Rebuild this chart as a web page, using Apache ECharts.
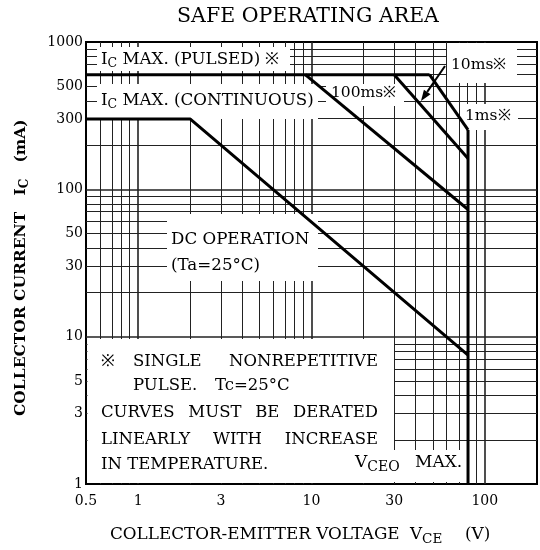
<!DOCTYPE html>
<html><head><meta charset="utf-8">
<script src="https://cdn.jsdelivr.net/npm/echarts@6/dist/echarts.min.js"></script>
<style>html,body{margin:0;padding:0;background:#fff}#c{width:540px;height:550px}</style>
</head><body><div id="c"></div>
<script>
// ---- data (VCE in V, IC in mA) ----
const xTickLabels = [0.5, 1, 3, 10, 30, 100];
const yTickLabels = [1, 3, 5, 10, 30, 50, 100, 300, 500, 1000];
const xGridValues = [0.6, 0.7, 0.8, 0.9, 1, 2, 3, 4, 5, 6, 7, 8, 9, 10, 20, 30, 40, 50, 60, 70, 80, 90, 100];
const yGridValues = [2, 3, 4, 5, 6, 7, 8, 9, 10, 20, 30, 40, 50, 60, 70, 80, 90, 100, 200, 300, 400, 500, 600, 700, 800, 900];
const xMajorGrid = [1, 10, 100];
const yMajorGrid = [10, 100];
const dcVce = [0.5, 2, 80];
const dcIc = [300, 300, 7.5];
const pulsedVce = [0.5, 48];
const pulsedIc = [600, 600];
const ms1Vce = [48, 80];
const ms1Ic = [600, 253];
const ms10Vce = [30, 80];
const ms10Ic = [600, 162];
const ms100Vce = [9.2, 80];
const ms100Ic = [600, 73];
const vceoVce = [80, 80];
const vceoIc = [253, 1];
const xMin = 0.5, xMax = 200, yMin = 1, yMax = 1000;

const L = Math.log10;
const FONT = '"DejaVu Serif", "Liberation Serif", serif';
const pairs = (xs, ys) => xs.map((x, i) => [L(x), L(ys[i])]);
const fmtTick = list => v => {
  const hit = list.find(t => Math.abs(L(t) - v) < 1e-6);
  return hit === undefined ? '' : String(hit);
};

const mctx = document.createElement('canvas').getContext('2d');
function tw(t, size, bold) { mctx.font = (bold ? 'bold ' : '') + size + 'px ' + FONT; return mctx.measureText(t).width; }
function txt(x, y, t, size, bold, extra) {
  return Object.assign({ type: 'text', x, y, z: 4, silent: true,
    style: { text: t, fontSize: size, fontFamily: FONT, fontWeight: bold ? 'bold' : 'normal', fill: '#000', verticalAlign: 'middle' } }, extra || {});
}
function seq(x, y, parts, bold) {
  const out = []; let cx = x;
  for (const [t, size, dy] of parts) {
    out.push(txt(cx, y + (dy || 0), t, size, bold));
    cx += tw(t, size, bold);
  }
  return out;
}
function justify(x0, x1, y, words, size) {
  const total = words.reduce((s, w) => s + tw(w, size), 0);
  const gap = (x1 - x0 - total) / (words.length - 1);
  const out = []; let cx = x0;
  for (const w of words) { out.push(txt(cx, y, w, size)); cx += tw(w, size) + gap; }
  return out;
}
function box(x0, y0, x1, y1) {
  return { type: 'rect', z: 2, silent: true, shape: { x: x0, y: y0, width: x1 - x0, height: y1 - y0 }, style: { fill: '#fff' } };
}
function arrow(x0, y0, x1, y1) {
  const dx = x1 - x0, dy = y1 - y0, len = Math.hypot(dx, dy), ux = dx / len, uy = dy / len;
  const bx = x1 - 11 * ux, by = y1 - 11 * uy, nx = -uy, ny = ux;
  return [
    { type: 'line', z: 4, silent: true, shape: { x1: x0, y1: y0, x2: bx, y2: by }, style: { stroke: '#000', lineWidth: 2 } },
    { type: 'polygon', z: 4, silent: true, shape: { points: [[x1, y1], [bx + 4 * nx, by + 4 * ny], [bx - 4 * nx, by - 4 * ny]] }, style: { fill: '#000' } }
  ];
}

const gridLines = [
  ...xGridValues.map(v => ({ xAxis: L(v), lineStyle: { type: 'solid', width: xMajorGrid.includes(v) ? 1.6 : 1, color: '#222' } })),
  ...yGridValues.map(v => ({ yAxis: L(v), lineStyle: { type: 'solid', width: yMajorGrid.includes(v) ? 1.6 : 1, color: '#222' } }))
];

const curve = (name, xs, ys) => ({
  name, type: 'line', data: pairs(xs, ys), showSymbol: false, symbol: 'none', z: 3, silent: true,
  lineStyle: { color: '#000', width: 3 }, animation: false
});

const S = 16.7, N = 16.5;
const graphics = [
  box(97, 47, 290, 71),
  box(97, 84, 318, 119),
  box(326, 84, 404, 106),
  box(447, 43, 517, 83),
  box(460, 104, 518, 130),
  box(167, 214, 318, 281),
  box(87.5, 339, 394, 483),
  box(352, 450, 466, 482),
  ...seq(101, 60, [['I', S, 0], ['C', 12.5, 4], [' MAX. (PULSED) ※', S, 0]]),
  ...seq(101, 101, [['I', S, 0], ['C', 12.5, 4], [' MAX. (CONTINUOUS)', S, 0]]),
  txt(331, 93, '100ms※', 15.5),
  txt(451, 65, '10ms※', 15.5),
  txt(465, 116, '1ms※', 15.5),
  ...arrow(445, 66, 421, 101),
  txt(171, 240, 'DC OPERATION', S),
  txt(171, 266, '(Ta=25°C)', S),
  txt(101, 362, '※', N),
  ...justify(133, 378, 362, ['SINGLE', 'NONREPETITIVE'], N),
  txt(133, 386, 'PULSE.', N),
  txt(215, 386, 'Tc=25°C', N),
  ...justify(101, 378, 413, ['CURVES', 'MUST', 'BE', 'DERATED'], N),
  ...justify(101, 378, 440, ['LINEARLY', 'WITH', 'INCREASE'], N),
  txt(101, 465, 'IN TEMPERATURE.', N),
  ...seq(355, 463, [['V', 17, 0], ['CEO', 14, 4]]),
  txt(415, 463, 'MAX.', 17),
  { type: 'text', x: 308, y: 17, z: 4, silent: true,
    style: { text: 'SAFE OPERATING AREA', fontSize: 20.5, fontFamily: FONT, fill: '#000', align: 'center', verticalAlign: 'middle' } },
  txt(110, 535, 'COLLECTOR-EMITTER VOLTAGE', 16.8),
  ...seq(410, 535, [['V', 16.8, 0], ['CE', 13.5, 4]]),
  txt(465, 535, '(V)', 16.8),
  { type: 'group', x: 21, y: 416, rotation: Math.PI / 2, children:
    seq(0, 0, [['COLLECTOR CURRENT', 15.5, 0], ['   ', 15.5, 0], ['I', 15.5, 0], ['C', 12, 4], ['   (mA)', 15.5, 0]], true) }
];

const chart = echarts.init(document.getElementById('c'), null, { renderer: 'canvas' });
chart.setOption({
  animation: false,
  backgroundColor: '#fff',
  grid: { left: 86, right: 3, top: 42, bottom: 66, show: true, borderColor: '#000', borderWidth: 2, backgroundColor: '#fff', outerBoundsMode: 'none' },
  xAxis: {
    type: 'value', min: L(xMin), max: L(xMax),
    axisLine: { show: false }, axisTick: { show: false }, splitLine: { show: false },
    axisLabel: { customValues: xTickLabels.map(L), formatter: fmtTick(xTickLabels), color: '#000', fontFamily: FONT, fontSize: 14, margin: 10, showMinLabel: true, showMaxLabel: true }
  },
  yAxis: {
    type: 'value', min: L(yMin), max: L(yMax),
    axisLine: { show: false }, axisTick: { show: false }, splitLine: { show: false },
    axisLabel: { customValues: yTickLabels.map(L), formatter: fmtTick(yTickLabels), color: '#000', fontFamily: FONT, fontSize: 14, margin: 3, showMinLabel: true, showMaxLabel: true }
  },
  series: [
    { type: 'line', data: [], silent: true, z: 1,
      markLine: { silent: true, z: 1, symbol: ['none', 'none'], animation: false, label: { show: false }, data: gridLines } },
    curve('DC', dcVce, dcIc),
    curve('Pulsed', pulsedVce, pulsedIc),
    curve('1ms', ms1Vce, ms1Ic),
    curve('10ms', ms10Vce, ms10Ic),
    curve('100ms', ms100Vce, ms100Ic),
    curve('VCEO', vceoVce, vceoIc)
  ],
  graphic: graphics
});
</script></body></html>
